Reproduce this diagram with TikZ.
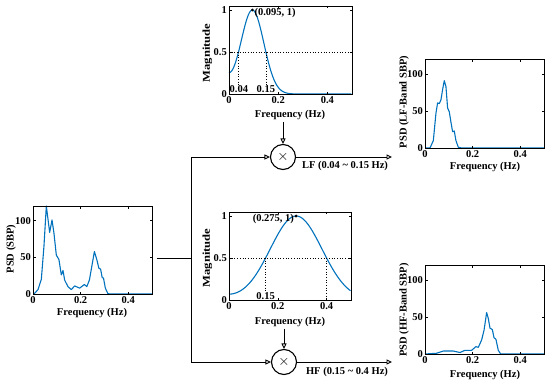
\documentclass[tikz,border=0pt]{standalone}
\usepackage{fontspec}
\usepackage{graphicx}
\setmainfont{Liberation Serif}
\usetikzlibrary{arrows.meta}
\definecolor{matblue}{RGB}{0,114,189}

\begin{document}
\begin{tikzpicture}[x=1pt, y=-1pt,
  every node/.style={font=\bfseries\fontsize{10.5}{12}\selectfont, inner sep=0pt},
  ticklab/.style={font=\bfseries\fontsize{10.5}{12}\selectfont},
  curve/.style={draw=matblue, line width=1.1pt, line join=round},
  axisbox/.style={draw=black, line width=0.6pt},
  guide/.style={draw=black, dotted, line width=0.7pt},
  wire/.style={draw=black, line width=0.9pt},
  tip/.style={-{Triangle[open, length=5.5pt, width=5pt]}},
  mult/.style={circle, draw=black, line width=1.1pt, minimum size=25pt,
    font=\fontsize{14}{14}\selectfont}]
% page frame (pixel coordinates, y down)
\useasboundingbox (0,0) rectangle (550,383);
% PSD axes: frame, ticks and tick labels (#1 = name prefix)
\providecommand{\psdframe}[1]{
  \draw[axisbox] (0,0) rectangle (0.5,120);
  \draw[axisbox] (0.2,0) -- ++(0pt,2.5pt) (0.4,0) -- ++(0pt,2.5pt)
    (0.2,120) -- ++(0pt,-2.5pt) (0.4,120) -- ++(0pt,-2.5pt)
    (0,50) -- ++(2.5pt,0pt) (0,100) -- ++(2.5pt,0pt)
    (0.5,50) -- ++(-2.5pt,0pt) (0.5,100) -- ++(-2.5pt,0pt);
  \node[ticklab, anchor=north, yshift=-2pt] (#1x0) at (0,0) {0};
  \node[ticklab, anchor=north, yshift=-2pt] (#1x2) at (0.2,0) {0.2};
  \node[ticklab, anchor=north, yshift=-2pt] (#1x4) at (0.4,0) {0.4};
  \node[ticklab, anchor=east, xshift=-2pt] (#1y0) at (0,0) {0};
  \node[ticklab, anchor=east, xshift=-2pt] (#1y50) at (0,50) {50};
  \node[ticklab, anchor=east, xshift=-2pt] (#1y100) at (0,100) {100};
}
% magnitude axes of a band filter (#1 = name prefix)
\providecommand{\magframe}[1]{
  \draw[axisbox] (0,0) rectangle (0.5,1.05);
  \draw[axisbox] (0.2,0) -- ++(0pt,2.5pt) (0.4,0) -- ++(0pt,2.5pt)
    (0.2,1.05) -- ++(0pt,-2.5pt) (0.4,1.05) -- ++(0pt,-2.5pt)
    (0,0.5) -- ++(2.5pt,0pt) (0,1) -- ++(2.5pt,0pt)
    (0.5,0.5) -- ++(-2.5pt,0pt) (0.5,1) -- ++(-2.5pt,0pt);
  \node[ticklab, anchor=north, yshift=-2pt] (#1x0) at (0,0) {0};
  \node[ticklab, anchor=north, yshift=-2pt] (#1x2) at (0.2,0) {0.2};
  \node[ticklab, anchor=north, yshift=-2pt] (#1x4) at (0.4,0) {0.4};
  \node[ticklab, anchor=east, xshift=-2pt] (#1y0) at (0,0) {0};
  \node[ticklab, anchor=east, xshift=-2pt] (#1y5) at (0,0.5) {0.5};
  \node[ticklab, anchor=east, xshift=-2pt] (#1y1) at (0,1) {1};
}

% Input PSD of SBP
\begin{scope}[shift={(33,294)}, x=238pt, y=0.733pt]
  \draw[curve] plot coordinates {(0,0) (0.004,0) (0.021,6) (0.035,20) (0.046,65)
    (0.056,120) (0.070,84) (0.080,101) (0.088,83) (0.098,53) (0.109,47)
    (0.119,26) (0.126,32) (0.133,19) (0.147,10) (0.161,6) (0.175,11)
    (0.196,8) (0.216,13) (0.226,10) (0.237,19) (0.258,58) (0.268,47)
    (0.277,35) (0.284,34) (0.291,22) (0.296,22) (0.304,8) (0.314,1)
    (0.321,0) (0.5,0)};
  \psdframe{sbp}
\end{scope}
\node[rotate=90] (sbpylab) at (11,249) {PSD (SBP)};
\node (sbpxlab) at (92,313) {Frequency (Hz)};

% LF band filter
\begin{scope}[shift={(229,94)}, x=246pt, y=84pt]
  \draw[curve] plot[domain=0:0.5, samples=150, smooth] (\x,
    {exp(-min(0.693*((\x-0.095)/0.055)*((\x-0.095)/0.055),15))
    + exp(-min(0.693*((\x+0.095)/0.055)*((\x+0.095)/0.055),15))});
  \node[ticklab, anchor=south, yshift=1.5pt] (lflow) at (0.04,0) {0.04};
  \node[ticklab, anchor=south, yshift=1.5pt] (lfhigh) at (0.15,0) {0.15};
  \draw[guide] (0,0.5) -- (0.5,0.5);
  \draw[guide] (0.04,0.5) -- (lflow.north);
  \draw[guide] (0.15,0.5) -- (lfhigh.north);
  \fill (0.095,1) circle (1.6pt);
  \node[ticklab, anchor=west, xshift=2pt, yshift=-3pt] (lfpeak) at (0.095,1) {(0.095, 1)};
  \magframe{lff}
\end{scope}
\node[rotate=90] (lfmaglab) at (207.5,53) {\scalebox{1.2}[1]{Magnitude}};
\node (lffxlab) at (290,115) {Frequency (Hz)};

% HF band filter
\begin{scope}[shift={(229,300)}, x=244pt, y=84pt]
  \draw[curve] plot[domain=0:0.5, samples=150, smooth] (\x,
    {exp(-min(0.693*((\x-0.275)/0.125)*((\x-0.275)/0.125),15))
    + exp(-min(0.693*((\x+0.275)/0.125)*((\x+0.275)/0.125),15))});
  \node[ticklab, anchor=south, yshift=0.5pt] (hflow) at (0.15,0) {0.15};
  \draw[guide] (0,0.5) -- (0.5,0.5);
  \draw[guide] (0.15,0.5) -- (hflow.north);
  \draw[guide] (0.4,0.5) -- (0.4,0);
  \fill (0.275,1) circle (1.6pt);
  \node[ticklab, anchor=east, xshift=-2pt, yshift=-3pt] (hfpeak) at (0.275,1) {(0.275, 1)};
  \magframe{hff}
\end{scope}
\node[rotate=90] (hfmaglab) at (207.5,258) {\scalebox{1.2}[1]{Magnitude}};
\node (hffxlab) at (290,322) {Frequency (Hz)};

% LF band PSD
\begin{scope}[shift={(425,148)}, x=238pt, y=0.74pt]
  \draw[curve] plot coordinates {(0,0) (0.021,0) (0.035,10) (0.046,47) (0.053,61)
    (0.060,60) (0.067,65) (0.074,79) (0.081,91) (0.088,83) (0.095,54)
    (0.102,49) (0.109,35) (0.116,22) (0.123,23) (0.130,10) (0.140,1)
    (0.154,0) (0.5,0)};
  \psdframe{lfp}
\end{scope}
\node[rotate=90] (lfpsdylab) at (404,102) {PSD (LF-Band SBP)};
\node (lfpsdxlab) at (485,167) {Frequency (Hz)};

% HF band PSD
\begin{scope}[shift={(425,354)}, x=238pt, y=0.74pt]
  \draw[curve] plot coordinates {(0,0) (0.049,1) (0.077,4) (0.119,4) (0.147,2)
    (0.168,5) (0.196,5) (0.214,10) (0.224,9) (0.238,19) (0.248,32)
    (0.259,56) (0.266,48) (0.273,35) (0.283,33) (0.290,22) (0.298,20)
    (0.308,5) (0.318,0) (0.5,0)};
  \psdframe{hfp}
\end{scope}
\node[rotate=90] (hfpsdylab) at (404,310) {PSD (HF-Band SBP)};
\node (hfpsdxlab) at (485,375) {Frequency (Hz)};

% Multipliers and signal flow
\node[mult] (lfmul) at (283,157) {$\times$};
\node[mult] (hfmul) at (284,362) {$\times$};
\coordinate (sbpout) at (157,258);
\coordinate (split) at (191,258);
\coordinate (lfout) at (392,157);
\coordinate (hfout) at (392,362);
\draw[wire] (sbpout) -- (split);
\draw[wire, tip] (split) |- (lfmul);
\draw[wire, tip] (split) |- (hfmul);
\draw[wire, tip, shorten <=2pt] (lfmul |- lffxlab.south) -- (lfmul);
\draw[wire, tip, shorten <=2pt] (hfmul |- hffxlab.south) -- (hfmul);
\draw[wire, tip] (lfmul) -- (lfout);
\draw[wire, tip] (hfmul) -- (hfout);
\node (lfband) at (345,166) {LF (0.04 \textasciitilde{} 0.15 Hz)};
\node (hfband) at (347,372) {HF (0.15 \textasciitilde{} 0.4 Hz)};
\end{tikzpicture}
\end{document}
